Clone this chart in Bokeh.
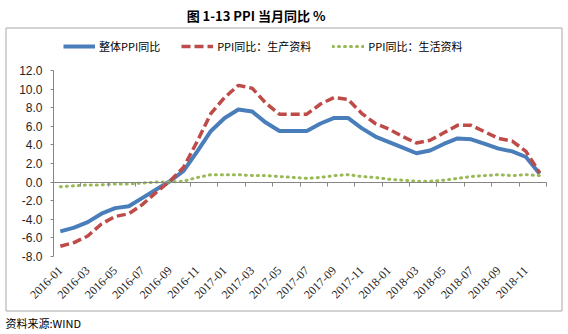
import math
from bokeh.plotting import figure
from bokeh.models import (Range1d, LinearAxis, FixedTicker, NumeralTickFormatter,
                          CustomJSTickFormatter, Label, Legend, LegendItem)
from bokeh.embed import file_html
from bokeh.resources import INLINE

months = ["2016-01", "2016-02", "2016-03", "2016-04", "2016-05", "2016-06",
          "2016-07", "2016-08", "2016-09", "2016-10", "2016-11", "2016-12",
          "2017-01", "2017-02", "2017-03", "2017-04", "2017-05", "2017-06",
          "2017-07", "2017-08", "2017-09", "2017-10", "2017-11", "2017-12",
          "2018-01", "2018-02", "2018-03", "2018-04", "2018-05", "2018-06",
          "2018-07", "2018-08", "2018-09", "2018-10", "2018-11", "2018-12"]

ppi = [-5.3, -4.9, -4.3, -3.4, -2.8, -2.6, -1.7, -0.8, 0.1, 1.2, 3.3, 5.5,
       6.9, 7.8, 7.6, 6.4, 5.5, 5.5, 5.5, 6.3, 6.9, 6.9, 5.8, 4.9,
       4.3, 3.7, 3.1, 3.4, 4.1, 4.7, 4.6, 4.1, 3.6, 3.3, 2.7, 0.9]

producer = [-6.9, -6.5, -5.8, -4.5, -3.7, -3.4, -2.4, -1.1, 0.1, 1.6, 4.4, 7.4,
            9.1, 10.4, 10.1, 8.5, 7.3, 7.3, 7.3, 8.4, 9.1, 8.9, 7.4, 6.3,
            5.7, 4.9, 4.2, 4.5, 5.3, 6.1, 6.1, 5.4, 4.7, 4.4, 3.3, 1.0]

consumer = [-0.5, -0.4, -0.3, -0.3, -0.2, -0.2, -0.1, 0.0, 0.0, 0.1, 0.5, 0.8,
            0.8, 0.8, 0.7, 0.7, 0.6, 0.5, 0.4, 0.5, 0.7, 0.8, 0.6, 0.5,
            0.3, 0.2, 0.1, 0.1, 0.2, 0.4, 0.6, 0.7, 0.8, 0.7, 0.8, 0.7]

y_ticks = [-8, -6, -4, -2, 0, 2, 4, 6, 8, 10, 12]
series_names = ["整体PPI同比", "PPI同比：生产资料", "PPI同比：生活资料"]
title_text = "图 1-13  PPI 当月同比 %"
source_text = "资料来源:WIND"

W, H = 568, 334
# pixel box of the plotting area inside the canvas
PL, PR, PT, PB = 53, 546, 70, 256

n = len(months)
xs = list(range(n))
x_lo, x_hi = -0.5, n - 0.5
y_lo, y_hi = y_ticks[0], y_ticks[-1]
kx = (PR - PL) / (x_hi - x_lo)
ky = (PB - PT) / (y_hi - y_lo)
x0 = x_lo - PL / kx
y1 = y_hi + PT / ky
x_range = Range1d(x0, x_hi + (W - PR) / kx)
y_range = Range1d(y_lo - (H - PB) / ky, y1)


def px_to_x(px):
    return x0 + px / kx


def py_to_y(py):
    return y1 - py / ky


p = figure(width=W, height=H, output_backend="svg", toolbar_location=None,
           x_range=x_range, y_range=y_range,
           min_border_left=0, min_border_right=0, min_border_top=0, min_border_bottom=0,
           x_axis_location=None, y_axis_location=None)
p.xgrid.visible = False
p.ygrid.visible = False
p.outline_line_color = None
p.background_fill_color = "white"
p.border_fill_color = "white"

axis_color = "#868686"

# chart-area border (frame decoration)
bx = [px_to_x(5.5), px_to_x(561.5), px_to_x(561.5), px_to_x(5.5), px_to_x(5.5)]
by = [py_to_y(27.5), py_to_y(27.5), py_to_y(310.5), py_to_y(310.5), py_to_y(27.5)]
p.line(bx, by, line_color="#a8a8a8", line_width=1)

# y axis
yaxis = LinearAxis(ticker=FixedTicker(ticks=y_ticks), formatter=NumeralTickFormatter(format="0.0"),
                   fixed_location=x_lo, bounds=(y_lo, y_hi))
yaxis.axis_line_color = axis_color
yaxis.major_tick_line_color = axis_color
yaxis.major_tick_out = 3
yaxis.major_tick_in = 0
yaxis.minor_tick_line_color = None
yaxis.major_label_standoff = 8
yaxis.major_label_text_font = "Liberation Sans"
yaxis.major_label_text_font_size = "12px"
yaxis.major_label_text_color = "#262626"
p.add_layout(yaxis, "left")

# category labels at the bottom
xlab = LinearAxis(ticker=FixedTicker(ticks=xs[::2]),
                  major_label_overrides={i: months[i] for i in xs[::2]},
                  fixed_location=y_lo, bounds=(x_lo, x_hi))
xlab.axis_line_color = None
xlab.major_tick_line_color = None
xlab.minor_tick_line_color = None
xlab.major_label_orientation = math.pi / 4
xlab.major_label_standoff = 6
xlab.major_label_text_font = "Liberation Serif"
xlab.major_label_text_font_size = "12px"
xlab.major_label_text_color = "#262626"
p.add_layout(xlab, "below")

# axis line with ticks at zero
xt = LinearAxis(fixed_location=0, ticker=FixedTicker(ticks=[i - 0.5 for i in range(0, n + 1, 2)]),
                formatter=CustomJSTickFormatter(code="return ''"), bounds=(x_lo, x_hi))
xt.axis_line_color = axis_color
xt.major_tick_line_color = axis_color
xt.major_tick_out = 4
xt.major_tick_in = 0
xt.minor_tick_line_color = None
xt.major_label_text_color = None
p.add_layout(xt, "below")

r1 = p.line(xs, ppi, line_color="#4a7ebb", line_width=4)
r2 = p.line(xs, producer, line_color="#be4b48", line_width=3.5, line_dash="9 4")
r3 = p.line(xs, consumer, line_color="#98b954", line_width=3, line_dash="1 5", line_cap="round")

legend = Legend(items=[LegendItem(label=series_names[0], renderers=[r1]),
                       LegendItem(label=series_names[1], renderers=[r2]),
                       LegendItem(label=series_names[2], renderers=[r3])],
                orientation="horizontal", location=(63, H - 54))
legend.border_line_color = None
legend.background_fill_alpha = 0
legend.padding = 0
legend.margin = 0
legend.spacing = 21
legend.glyph_width = 32
legend.glyph_height = 14
legend.label_height = 14
legend.label_standoff = 4
legend.label_text_font = "Noto Sans CJK SC"
legend.label_text_font_size = "11px"
legend.label_text_color = "#000000"
p.add_layout(legend)

title = Label(x=257, y=H - 15, x_units="screen", y_units="screen", text=title_text,
              text_align="center", text_baseline="middle",
              text_font="Noto Sans CJK SC", text_font_style="bold",
              text_font_size="13px", text_color="#000000")
p.add_layout(title)

src = Label(x=5, y=H - 322, x_units="screen", y_units="screen", text=source_text,
            text_align="left", text_baseline="middle",
            text_font="Noto Sans CJK SC", text_font_size="11px", text_color="#000000")
p.add_layout(src)

open("out.html", "w").write(file_html(p, INLINE))
